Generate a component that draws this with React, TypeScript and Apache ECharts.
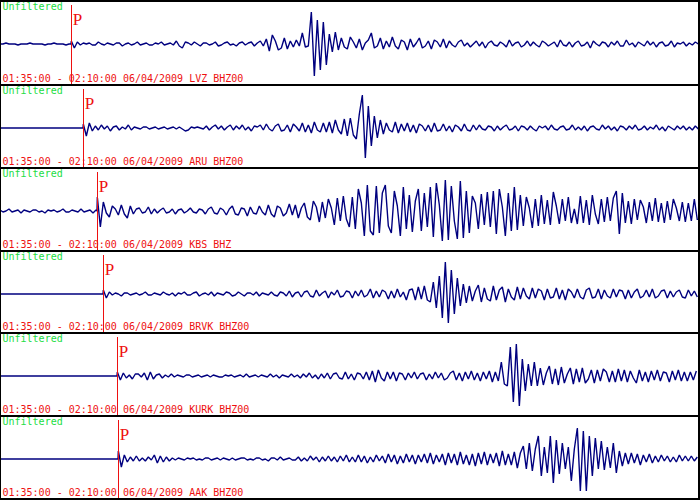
import React, { useEffect, useRef } from 'react';
import * as echarts from 'echarts';

// ---- data ----
const stations = ['LVZ BHZ00', 'ARU BHZ00', 'KBS BHZ', 'BRVK BHZ00', 'KURK BHZ00', 'AAK BHZ00'];
const timeWindow = '01:35:00 - 02:10:00 06/04/2009';
const filterLabel = 'Unfiltered';
const windowSeconds = 2100; // 01:35:00 -> 02:10:00
const sampleStep = 9; // seconds between samples
const pArrivals = [214, 250, 292, 310, 352, 355]; // seconds after 01:35:00

// pre-event noise (from 01:35:00)
const lvzPre = [0, 0, 1, 0, 0, 0, -1, 0, 0, 0, 1, 0, 0, 0, 0, -1, 0, 0, 1, 0, 0, 0, -1, 0];
const kbsPre = [1, -1, 0, 2, -1, 0, 1, -2, 1, 0, -1, 1, 1, -1, 0, -2, 1, 0, 1, -1, 0, 2, -1, -1, 1, 0, -1, 2, -1, 0, 1, -2, 1];

// traces from the P arrival onwards
const lvz = [
  3, -4, 2,
  -1, 1, 0, 1, -1, -1, 2, 0, -1, 1, 0, -1, 1, 1, -2, 0, 1, -1, 0, 2, -1, 0, 1, -1, -1, 1, 0, 2, -1, 0, 1, -1,
  3, -2, -4, 2,
  1, -1, 2, 0, -2, 1, 1, -1, 0, 2, -2, -1, 1, 2, -1, 0, -2, 1, 2, -1, 1,
  2, -2, 1, 3, -2, 5, -7, 9, 3, -6, -4, 6, -5, 3, -3, 4, -2,
  11, -3, -2,
  32, -32, 24, -26, 22, -21, 10, -8, 12, -6,
  6, -3, -5, 7, 2, -4, 5, -6, 1, 4, 11, -4, -2, 6, -5, 3, -3, 7, -2, -5, 4, 2, -6, 5, -3, 1, 6, -4, -2, 3, -5, 4, 2, -3, 5, -4,
  3, -1, -3, 2, 4, -2, 1, -3, 0, 3, -2, 2, -4, 1, 3, -1, -2, 2, 0, -3,
  4, -2, 1, 2, -3, -1, 3, -2, 2, -1, -3, 3, 1, -2, 0, 2, -3, 4, -1, -2,
  2, -3, 1, 3, -2, -1, 2, -4, 3, 0, -2, 2, 1, -3, 2, -1, 3, -2, -2, 4,
  -1, 1, -3, 2, 0, -2, 3, -1, 2, -3, 1, 2, -2, -1, 3, -3, 1, 0, 2, -2,
  1, -1, 2, 0,
];
const aru = [
  4, -8, 5,
  -3, 2, -2, 3, -1, 2, -3, 1, 2, -2, 1, -1, 3,
  -2, 1, 0, -1, 1, 1, -1, 0, 1, -1, 0, 1, -1, 0, 1, -1, 1, -1, -3, -2,
  1, 0, 1, 0, -1, 2, -2, 1, 3, -1, 2, -2, 1, 3, -2, 2, -1, 3, -2, 1, -3, 2, 1,
  3, -2, 4, -1, -3, 2, 4, -3, -2, 3, -4, 4, 1, -3, 5, -4, 3, -5, 6, -2, -4, 5,
  -4, 6, -5, 8, -2, -6, 9, -8,
  10, -7, -11, 14, 33, -30, 22, -18, 12, -10,
  8, -6, 5, -2, -4, 6, -5, 4, -3, 5, -4, 3, -5, 4, 2, -3, 3, -4, 5, -3, -2, 4, -3, 2, -4, 3, 1, -3, 4, -2, -3, 3,
  -2, 3, -1, -2, 2, 1, -3, 2, -2, 1, 3, -2, -1, 2, -3, 2, 1, -2, 2, -1,
  -3, 2, 0, 2, -2, 3, -1, -2, 1, 2, -2, -1, 3, -2, 1, -2, 2, -3, 1, 2,
  -1, -2, 3, -1, 2, -2, 1, -3, 2, 1, -2, 2, -1, 3, -2, -1, 2, -2, 1, -1,
  3, -2, 1, -3, 2, 0, -2, 2, -1, 2, -2, 1, -2, 2, -1,
];
const kbs = [
  14, -16, 9, -2, -6, 5, 2, -4, 6, -3,
  -7, 5, -3, 2, 3, -2, -1, 4, -3, 2,
  -2, 1, 3, -2, -1, 2, -3, 1, 2, -2, 0, 3, -1, -2, 2, 1,
  -3, 2, 4, -2, -3, 3, 1, -4, 2, 5, -3, -4, 3, 2, -5, 4, -2, -3, 5, -1,
  -4, 6, -3, -6, 5, 3, -5, -2, 7, -4, 6, -7, 3,
  8, -6, -9, 10, 4, -11, 9, -7, 12, 3, -14, 13, -10, 15, -8, -16, 14,
  -18, 22, 8, -25, 26, -20, -24, 25, -22, 18,
  26, -15, -22, 20, 5, -25, 24, -18, 16, -21, 10, 22, -20, 18, -16,
  24, -26, 28, 6, -30, 31, -29, 25, -10, -28, 30, -27,
  20, -22, 15, 8, -18, 17, -14, 19,
  -16, 20, -23, 22, 4, -25, 18, -20, 24, -19,
  16, -15, 14, 3, -17, 12, -15, 16, -13, 11, -14, 19, 5, -13, 12, -10, 14, -12, 2, -13,
  15, -12, 11, -14, 16, -3, -13, 12, -11, 14,
  -10, 13, 20, -23, 18,
  -12, 10, -13, 12, -9, 11, 4, -12, 9, -10, 13, -11, 8, -12, 10, -9, 12, 3, -10, 9, -11, 8, -10, 12, -9,
];
const brvk = [
  4, -4, 2,
  -1, 1, 0, -2, 1, 1, -1, 0, 1, -1, 0, 2, -1, -1, 1, 0, -1, 2, 0, -1,
  1, -2, 1, 0, 2, -1, -1, 1, 2, -2, 0, 1, -1, 2, -2, 1, 0, -1, 2, 1,
  -2, -1, 2, 0, -2, 1, 1, -1, 2, -2, 1, 0, -1, 2, -1, -2, 2, 1,
  -2, 3, -3, 1, 2, -3, 2, 3, -2, -3, 4, -2, 1, 3, -4, 2, -1, 4, -3, -2,
  3, 2, -4, 3, -2, 4, -3, -1, 5, -4, 3, -3, 4, 2, -5, 3, -4, 5, -3, 2,
  -6, 4, 5, -6, 7, -5, 8, -6,
  -8, 12, -14, 18, -24, 32, -29, 24, -20, 16, -12, 10,
  -9, 8, -7, 3, 9, -8, 6, -5, -7, 8, -6, 4, 7, -8, 5, -3, -6, 7, -5, 6,
  -2, -5, 6, -4, 5, 3, -6, 5, -4, -3, 6, -5, 4, -6, 5, 2, -4, 5, -3, -5,
  4, 6, -4, -3, 5, -5, 4, -2, -4, 5, -3, 4, 3, -5, 4, -4, 2, 5, -4, -2,
  4, -3, 5, -4, -2, 3, 4, -4, 3, -3, 2, 4, -3, -4, 4, -2, 3, -3,
];
const kurk = [
  4, -4, 3,
  -2, 1, -3, 2, 2, -1, 3, -4, 4, -3, 1, 2, -2, 1, -1, 2,
  -1, 1, 0, -1, 1, 1, -1, 0, 1, -1, 0, 1, -1, 1, 0, -1, -1, 1, 0, 1,
  -1, 0, 1, -1, 2, -1, 0, 1, -1, 1, 0, -1, 2, -1, 1, -2, 1, 0, -1, 2, -1, 1,
  -2, 2, -1, 3, -2, 1, -3, 2, -2, 3, -3, 2, 3, -2, -3, 4, -3, 2, -4, 3,
  2, -3, 4, -4, 5, -6, 6, -2, -5, 4,
  -3, 4, -5, 3, 2, -4, 3, -2, 4, -3, 2, 3, -4, 2, -3, 4, -2, 3, -4, -2,
  3, 5, -4, 3, -5, 4, -3, 5, -4, 3, -5, 4, -3, 5, -6,
  4, -5, 14, -8, -10, 29, -26, 32, -30, 17, -15, 12, -10,
  14, -10, 8, -9, 3, 10, -8, 7, -9, 9, -7, 2, 8, -8, 7, -6, 8, -7, -3, 6,
  -7, 6, -5, 7, 4, -6, 5, -6, 7, -5, 6, -6, 5, -2, -7, 6, -5, 4, -6, 5,
  -4, 6, -5, 4, 3, -6, 5, -4, 6, -5, 4, -5, 4, -4, 5,
];
const aak = [
  8, -8, 4, -3,
  2, -2, 3, -2, 1, -2, 2, -1, 4, -4, 3, -3, 2,
  -2, 1, -1, 1, 0, -1, 1, 0, 1, -1, 0, -1, 1, 1, -1, 0, 1, -1, 1, 0,
  -1, 1, -1, 0, 1, 1, -1, 0, -1, 1, 1, -1, 0, -2, 1, 1, -1, 2, -1, 0, 1, -1, -1, 2,
  -2, 1, -2, 3, -1, 2, -3, 2, -2, 3, -2, 2, -3, 3, -2, 4, -3, 2, -3, 4,
  -3, 3, -4, 2, -3, 4, -2, 3, -4, 5, -3, 4, -5, 3, -4, 5, -3, 4, -5, 4,
  -3, 5, -4, 6, -5, 4, -3, 5, -6, 6,
  -4, 5, -6, 7, -5, 4, -6, 5, -7, 6, -5, 7, -6, 5, -4, 6, -7, 8, -6, 5, -6, 7, -9, 6,
  13, -10, 16, -12, 10, 23, -17, 12, -14, 23, -24, 19, -15, 16, -10, 12, -22, 10, 31, -32,
  28, -32, 23, -17, 21, -10, 18, -11, 12, -9, 16, -14, 8, -7, 6, -5,
  6, -4, 5, -6, 4, -3, 5, -4, 3, -3, 4, -2, 3, -3, 2, -3, 4, -2, 3, -2, 3, -2, 2,
];

const traces = [lvz, aru, kbs, brvk, kurk, aak];
const preEvent: (number[] | null)[] = [lvzPre, null, kbsPre, null, null, null];

// ---- layout / style ----
const SEPS = [0, 84, 167, 250, 332, 415, 498];
const TRACE_COLOR = '#00007f';
const RED = '#ee1010';
const GREEN = '#22dd44';
const MONO = 'DejaVu Sans Mono';

function buildTrace(pre: number[] | null, onset: number, post: number[]) {
  const pts: [number, number][] = [];
  if (pre) pre.forEach((v, i) => pts.push([i * sampleStep, v]));
  else pts.push([0, 0]);
  pts.push([onset - 1, 0]);
  post.forEach((v, i) => pts.push([onset + i * sampleStep, v]));
  return pts;
}

export default function App() {
  const ref = useRef<HTMLDivElement>(null);
  useEffect(() => {
    document.body.style.margin = '0';
    const chart = echarts.init(ref.current!, undefined, { renderer: 'svg' });
    const grids: any[] = [];
    const xAxes: any[] = [];
    const yAxes: any[] = [];
    const series: any[] = [];
    const graphics: any[] = [];
    for (let i = 0; i < 6; i++) {
      const top = SEPS[i] + 2;
      const height = SEPS[i + 1] - SEPS[i] - 2;
      grids.push({ left: 0, right: 0, top, height });
      xAxes.push({ type: 'value', gridIndex: i, min: 0, max: windowSeconds, show: false });
      yAxes.push({ type: 'value', gridIndex: i, min: 42 - height, max: 42, show: false });
      const onset = pArrivals[i];
      series.push({
        type: 'line',
        xAxisIndex: i,
        yAxisIndex: i,
        symbol: 'none',
        showSymbol: false,
        silent: true,
        clip: true,
        lineStyle: { color: TRACE_COLOR, width: 1.4 },
        data: buildTrace(preEvent[i], onset, traces[i]),
        markLine: {
          silent: true,
          symbol: ['none', 'none'],
          label: { show: false },
          lineStyle: { color: RED, width: 1, type: 'solid' },
          data: [[{ coord: [onset, 39] }, { coord: [onset, 42 - height] }]],
        },
        markPoint: {
          silent: true,
          symbol: 'circle',
          symbolSize: 1,
          itemStyle: { color: 'transparent' },
          data: [{ coord: [onset, 25], value: 'P' }],
          label: {
            show: true,
            position: 'right',
            distance: 1,
            formatter: 'P',
            color: RED,
            fontFamily: 'Liberation Serif',
            fontSize: 17,
          },
        },
      });
      graphics.push({
        type: 'text',
        x: 2.5,
        y: SEPS[i] + 6.8,
        z: 100,
        style: { text: filterLabel, fill: GREEN, fontSize: 10, fontFamily: MONO, verticalAlign: 'middle', align: 'left' },
      });
      graphics.push({
        type: 'text',
        x: 2.5,
        y: SEPS[i + 1] - 5.5,
        z: 100,
        style: { text: `${timeWindow} ${stations[i]}`, fill: RED, fontSize: 10, fontFamily: MONO, verticalAlign: 'middle', align: 'left' },
      });
    }
    SEPS.forEach((s) => {
      graphics.push({ type: 'rect', z: 101, shape: { x: 0, y: s, width: 700, height: 2 }, style: { fill: '#000' } });
    });
    graphics.push({ type: 'rect', z: 101, shape: { x: 0, y: 0, width: 1, height: 500 }, style: { fill: '#000' } });
    graphics.push({ type: 'rect', z: 101, shape: { x: 698, y: 0, width: 2, height: 500 }, style: { fill: '#000' } });

    chart.setOption({
      animation: false,
      backgroundColor: '#ffffff',
      grid: grids,
      xAxis: xAxes,
      yAxis: yAxes,
      series,
      graphic: graphics,
    });
    return () => chart.dispose();
  }, []);
  return <div ref={ref} style={{ width: 700, height: 500 }} />;
}
